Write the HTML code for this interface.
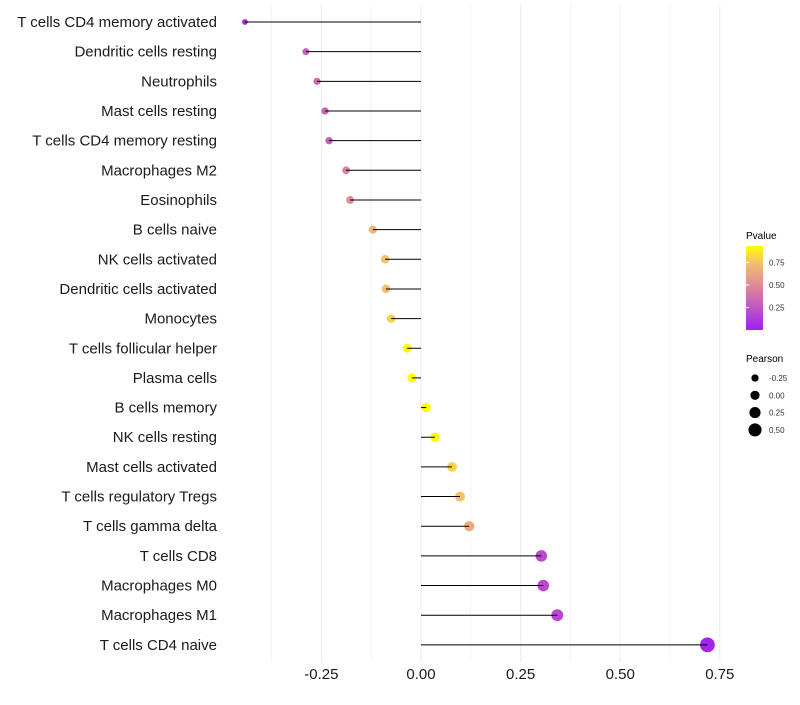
<!DOCTYPE html>
<html><head><meta charset="utf-8"><style>
body{margin:0;background:#fff;font-family:"Liberation Sans",sans-serif}
</style></head><body>
<svg id="chart" width="800" height="700" xmlns="http://www.w3.org/2000/svg">
<defs><linearGradient id="pg" x1="0" y1="1" x2="0" y2="0">
<stop offset="0" stop-color="#A020F0"/><stop offset="0.48" stop-color="#DB7FA0"/><stop offset="0.8" stop-color="#F5C06A"/><stop offset="1" stop-color="#FFFF00"/>
</linearGradient></defs>
<g id="grid"></g>
<g id="dots"></g>
<g id="marks"></g>
<g id="labels"></g>
<g id="xt"></g>
<g>
<text x="746" y="239" font-size="10">Pvalue</text>
<rect x="746" y="246" width="17" height="84" fill="url(#pg)"/>
<g id="cbt"></g>
</g>
<g id="sizeleg">
<text x="746" y="362" font-size="10">Pearson</text>
</g>
</svg>
<script>
const categories=["T cells CD4 memory activated","Dendritic cells resting","Neutrophils","Mast cells resting","T cells CD4 memory resting","Macrophages M2","Eosinophils","B cells naive","NK cells activated","Dendritic cells activated","Monocytes","T cells follicular helper","Plasma cells","B cells memory","NK cells resting","Mast cells activated","T cells regulatory  Tregs ","T cells gamma delta","T cells CD8","Macrophages M0","Macrophages M1","T cells CD4 naive"];
const pearson=[-0.442,-0.289,-0.261,-0.241,-0.231,-0.188,-0.178,-0.121,-0.090,-0.088,-0.075,-0.035,-0.023,0.013,0.035,0.078,0.098,0.121,0.302,0.307,0.342,0.719];
const pvalue=[0.04,0.3,0.35,0.32,0.3,0.45,0.5,0.7,0.75,0.75,0.8,0.9,0.95,0.97,0.9,0.8,0.75,0.65,0.2,0.2,0.18,0.02];
const xTicks=[-0.25,0,0.25,0.5,0.75];
const xTickLabels=["-0.25","0.00","0.25","0.50","0.75"];
const cbTicks=[0.25,0.5,0.75];
const sizeLegend=[-0.25,0,0.25,0.5];
const NS="http://www.w3.org/2000/svg";
const x=v=>421+v*398.4;
const y=i=>22+i*29.66;
const r=v=>4.6+3.9*v;
const cy=p=>330-p*90;
function lerp(a,b,t){return a.map((c,i)=>Math.round(c+(b[i]-c)*t));}
const stops=[[0,[160,32,240]],[0.45,[219,127,160]],[0.75,[245,192,106]],[0.93,[255,255,0]]];
function col(p){p=Math.max(0,Math.min(0.93,p));for(let k=1;k<stops.length;k++){if(p<=stops[k][0]){const t=(p-stops[k-1][0])/(stops[k][0]-stops[k-1][0]);return "rgb("+lerp(stops[k-1][1],stops[k][1],t).join(",")+")";}}return "rgb(255,255,0)";}
function mk(tag,at,parent){const e=document.createElementNS(NS,tag);for(const k in at)e.setAttribute(k,at[k]);document.getElementById(parent).appendChild(e);return e;}
for(let v=-0.375;v<=0.76;v+=0.125){
 const g=mk("line",{x1:x(v),x2:x(v),y1:5,y2:662,stroke:"#ebebeb","stroke-width":Math.abs((v*4)%1)<0.01?1:0.6},"grid");
 
 
}
categories.forEach((c,i)=>{
 const d=mk("circle",{cx:x(pearson[i]),cy:y(i),r:r(pearson[i]),fill:col(pvalue[i])},"dots");
 
 
 const l=mk("line",{x1:x(0),x2:x(pearson[i]),y1:y(i),y2:y(i),stroke:"#000","stroke-width":1},"marks");
 
 
 const t=mk("text",{x:217,y:y(i)+5,"text-anchor":"end","font-size":15,fill:"#1a1a1a"},"labels");
 t.textContent=c;
 
 
});
xTicks.forEach((v,i)=>{
 const t=mk("text",{x:x(v),y:679,"text-anchor":"middle","font-size":15,fill:"#1a1a1a"},"xt");
 t.textContent=xTickLabels[i];
 
 
});
cbTicks.forEach(p=>{
 const t=mk("text",{x:769,y:cy(p)+3,"font-size":8,fill:"#333"},"cbt");
 t.textContent=p.toFixed(2);
 
 
 const l=mk("line",{x1:746,x2:749,y1:cy(p),y2:cy(p),stroke:"#fff"},"cbt");
 
 
});
sizeLegend.forEach((v,i)=>{
 const yy=378+i*17.3;
 const c=mk("circle",{cx:755,cy:yy,r:r(v),fill:"#000"},"sizeleg");
 
 
 const t=mk("text",{x:769,y:yy+3,"font-size":8,fill:"#333"},"sizeleg");
 t.textContent=v.toFixed(2);
 
 
});
</script>
</body></html>
